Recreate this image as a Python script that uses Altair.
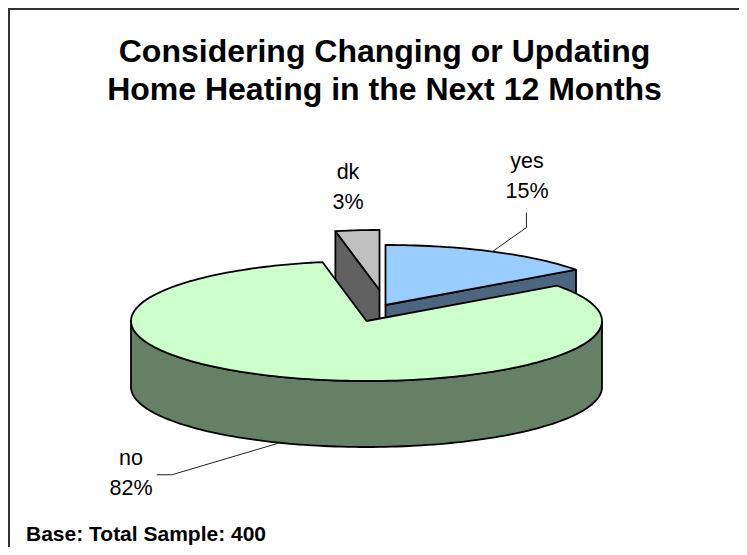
import math
import altair as alt
import pandas as pd

# ---- values
categories = ["yes", "no", "dk"]
shares = [15, 82, 3]
base_note = "Base: Total Sample: 400"
title_lines = ["Considering Changing or Updating", "Home Heating in the Next 12 Months"]

top_colors = {"yes": "#99ccff", "no": "#ccffcc", "dk": "#c0c0c0"}
side_colors = {"yes": "#4d6680", "no": "#668066", "dk": "#606060"}

# ---- layout of the tilted pie (page pixels)
W, H = 731, 539
CX, CY = 366.5, 321
RX, RY = 235.5, 60
DEPTH = 66
explode = {"yes": (19, -16), "no": (0, 0), "dk": (13, -31)}
LW = 1.8


def rim(cat, t, drop=0):
    ox, oy = explode[cat]
    a = math.radians(t)
    return (CX + ox + RX * math.sin(a), CY + oy - RY * math.cos(a) + drop)


spans = {}
start = 0.0
for c, s in zip(categories, shares):
    spans[c] = (start, start + s * 3.6)
    start += s * 3.6


def arc(cat, t0, t1, drop=0):
    n = max(2, int(abs(t1 - t0) / 1.5))
    return [rim(cat, t0 + (t1 - t0) * i / n, drop) for i in range(n + 1)]


def apex(cat, drop=0):
    ox, oy = explode[cat]
    return (CX + ox, CY + oy + drop)


X = alt.X("x:Q", axis=None, scale=alt.Scale(domain=[8, 8 + W], nice=False, zero=False))
Y = alt.Y("y:Q", axis=None, scale=alt.Scale(domain=[8 + H, 8], nice=False, zero=False))


def poly(points, color):
    pts = list(points) + [points[0]]
    df = pd.DataFrame({"x": [p[0] for p in pts], "y": [p[1] for p in pts], "i": range(len(pts))})
    return alt.Chart(df).mark_line(
        fill=color, stroke="black", strokeWidth=LW, strokeJoin="round"
    ).encode(x=X, y=Y, order="i:Q")


layers = []
for cat in ["dk", "yes"]:
    t0, t1 = spans[cat]
    edge = t0 if cat == "dk" else t1
    # inner cut face, seen from the front
    layers.append(poly([rim(cat, edge), apex(cat), apex(cat, DEPTH), rim(cat, edge, DEPTH)], side_colors[cat]))
    layers.append(poly([apex(cat)] + arc(cat, t0, t1), top_colors[cat]))

# wall and top of the large slice
t0, t1 = spans["no"]
layers.append(poly(arc("no", 90, 270) + arc("no", 270, 90, DEPTH), side_colors["no"]))
layers.append(poly([apex("no")] + arc("no", t0, t1), top_colors["no"]))


def leader(points):
    df = pd.DataFrame({"x": [p[0] for p in points], "y": [p[1] for p in points], "i": range(len(points))})
    return alt.Chart(df).mark_line(color="#222222", strokeWidth=1).encode(x=X, y=Y, order="i:Q")


# leaders start on the rim at each slice's middle angle
yes_mid = sum(spans["yes"]) / 2
no_mid = sum(spans["no"]) / 2
p = rim("yes", yes_mid)
layers.append(leader([p, (p[0] + 34, p[1] - 24), (p[0] + 34, p[1] - 39)]))
p = rim("no", no_mid, DEPTH)
layers.append(leader([p, (p[0] - 108, p[1] + 32), (p[0] - 123, p[1] + 32)]))

# frame: top and left only reach the picture's edges
frame = pd.DataFrame({"x": [9, 9, 8 + W], "y": [8 + H, 9, 9], "i": [0, 1, 2]})
layers.append(alt.Chart(frame).mark_line(color="#333333", strokeWidth=2).encode(x=X, y=Y, order="i:Q"))

# slice labels
label_pos = {"yes": (527, 162), "dk": (348, 173), "no": (131, 459)}
rows = []
for c, s in zip(categories, shares):
    lx, ly = label_pos[c]
    rows.append({"x": lx, "y": ly, "t": c})
    rows.append({"x": lx, "y": ly + 29.5, "t": f"{s}%"})
layers.append(
    alt.Chart(pd.DataFrame(rows))
    .mark_text(font="Liberation Sans", fontSize=21.5, color="black", baseline="middle", align="center")
    .encode(x=X, y=Y, text="t:N")
)

layers.append(
    alt.Chart(pd.DataFrame({"x": [26], "y": [535], "t": [base_note]}))
    .mark_text(font="Liberation Sans", fontSize=21, fontWeight="bold", color="black", baseline="middle", align="left")
    .encode(x=X, y=Y, text="t:N")
)

chart = (
    alt.layer(*layers)
    .properties(
        width=W,
        height=H,
        padding=0,
        autosize=alt.AutoSizeParams(type="none"),
        title=alt.TitleParams(
            text=title_lines,
            font="Liberation Sans",
            fontSize=32,
            fontWeight="bold",
            color="black",
            anchor="middle",
            lineHeight=38,
            dx=11,
            dy=102,
            offset=0,
        ),
    )
    .configure_view(stroke=None)
)

chart.save("out.html", embed_options={"renderer": "svg", "actions": False})
